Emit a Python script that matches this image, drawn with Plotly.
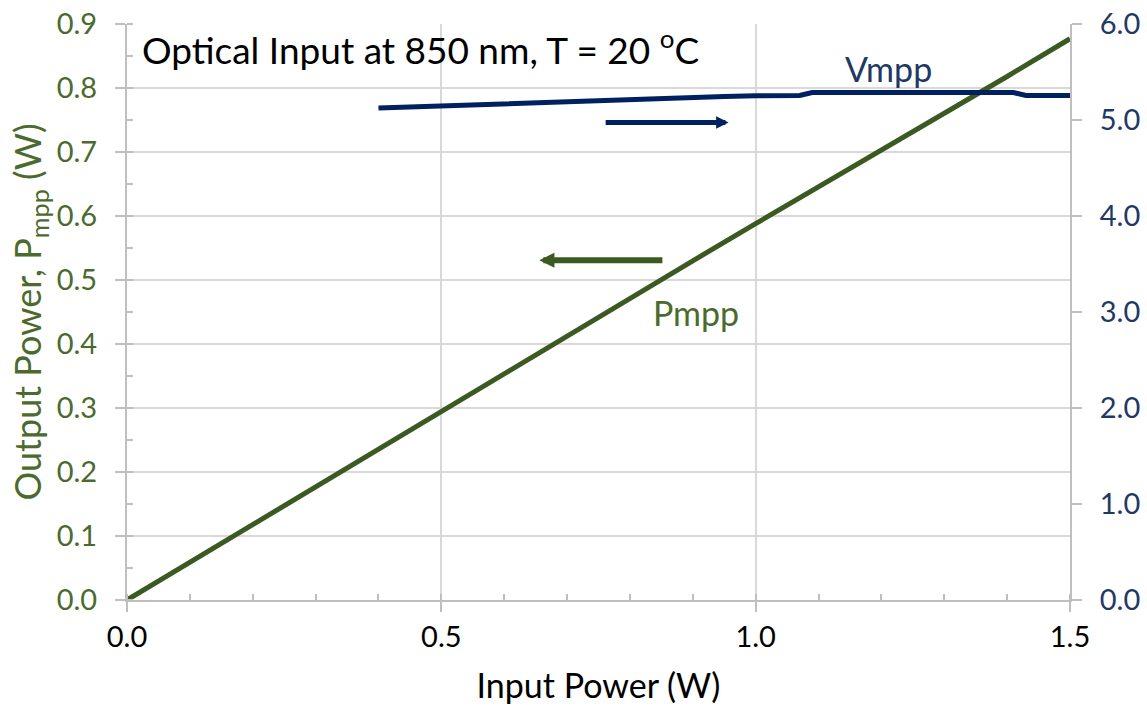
import plotly.graph_objects as go

# Data
input_power = [0.0, 0.1, 0.2, 0.3, 0.4, 0.5, 0.6, 0.7, 0.8, 0.9, 1.0, 1.1, 1.2, 1.3, 1.4, 1.5]
p_mpp = [0.000, 0.059, 0.118, 0.177, 0.237, 0.296, 0.355, 0.413, 0.471, 0.530, 0.588, 0.645, 0.702, 0.760, 0.818, 0.877]

vmpp_input = [0.40, 0.45, 0.50, 0.55, 0.60, 0.65, 0.70, 0.75, 0.80, 0.85, 0.90, 0.95, 1.00, 1.07, 1.09, 1.20, 1.30, 1.41, 1.43, 1.50]
v_mpp = [5.124, 5.136, 5.148, 5.158, 5.170, 5.182, 5.194, 5.206, 5.216, 5.226, 5.236, 5.246, 5.252, 5.256, 5.286, 5.286, 5.286, 5.286, 5.255, 5.255]

x_ticks = [0.0, 0.5, 1.0, 1.5]
y_ticks = [0.0, 0.1, 0.2, 0.3, 0.4, 0.5, 0.6, 0.7, 0.8, 0.9]
y2_ticks = [0.0, 1.0, 2.0, 3.0, 4.0, 5.0, 6.0]

GREEN = "#3b5a22"
GREEN_TXT = "#4b6b2e"
BLUE = "#002060"
BLUE_TXT = "#1f3864"
AXIS = "#bfbfbf"
GRID = "#d9d9d9"
FONT = "Lato"

fig = go.Figure()
fig.add_trace(go.Scatter(x=input_power, y=p_mpp, mode="lines",
                         line=dict(color=GREEN, width=5), name="Pmpp", yaxis="y"))
fig.add_trace(go.Scatter(x=vmpp_input, y=v_mpp, mode="lines",
                         line=dict(color=BLUE, width=5), name="Vmpp", yaxis="y2"))

fig.update_layout(
    width=1147, height=711,
    margin=dict(l=127, r=77, t=24, b=111),
    paper_bgcolor="white", plot_bgcolor="white",
    showlegend=False,
    font=dict(family=FONT, size=29, color="black"),
    xaxis=dict(
        range=[0, 1.5], tickvals=x_ticks, ticktext=[f"{v:.1f}" for v in x_ticks],
        automargin=False,
        showline=True, linecolor=AXIS, linewidth=2,
        ticks="outside", ticklen=10, tickcolor=AXIS, tickwidth=2,
        showgrid=True, gridcolor=GRID, gridwidth=2, zeroline=False,
        minor=dict(dtick=0.1, ticks="inside", ticklen=6, tickcolor=AXIS, tickwidth=2, showgrid=False),
        tickfont=dict(family=FONT, size=29, color="black"),
        title=dict(text="Input Power (W)", font=dict(family=FONT, size=34, color="black"), standoff=22),
    ),
    yaxis=dict(
        range=[0, 0.9], tickvals=y_ticks, ticktext=[f"{v:.1f}" for v in y_ticks],
        automargin=False,
        showline=True, linecolor=AXIS, linewidth=2,
        ticks="outside", ticklen=10, tickcolor=AXIS, tickwidth=2,
        ticklabelstandoff=12,
        showgrid=True, gridcolor=GRID, gridwidth=2, zeroline=False,
        minor=dict(dtick=0.05, ticks="inside", ticklen=6, tickcolor=AXIS, tickwidth=2, showgrid=False),
        tickfont=dict(family=FONT, size=29, color=GREEN_TXT),
        title=dict(text="Output Power, P<sub>mpp</sub> (W)", font=dict(family=FONT, size=36, color=GREEN_TXT), standoff=4),
    ),
    yaxis2=dict(
        range=[0, 6], tickvals=y2_ticks, ticktext=[f"{v:.1f}" for v in y2_ticks],
        overlaying="y", side="right", automargin=False,
        showline=True, linecolor=AXIS, linewidth=2,
        ticks="outside", ticklen=10, tickcolor=AXIS, tickwidth=2,
        ticklabelstandoff=12,
        showgrid=False, zeroline=False,
        tickfont=dict(family=FONT, size=29, color=BLUE_TXT),
    ),
)

# Text labels
fig.add_annotation(x=0.02, y=0.864, xref="x", yref="y", xanchor="left", yanchor="middle",
                   text="Optical Input at 850 nm, T = 20 <sup>o</sup>C", showarrow=False,
                   font=dict(family=FONT, size=37, color="black"))
fig.add_annotation(x=1.211, y=0.83, xref="x", yref="y", text="Vmpp", showarrow=False,
                   font=dict(family=FONT, size=34, color=BLUE_TXT))
fig.add_annotation(x=0.905, y=0.449, xref="x", yref="y", text="Pmpp", showarrow=False,
                   font=dict(family=FONT, size=34, color=GREEN_TXT))

# Arrows
fig.add_annotation(x=0.957, y=0.746, ax=0.759, ay=0.746, xref="x", yref="y", axref="x", ayref="y",
                   text="", showarrow=True, arrowhead=2, arrowsize=0.5, arrowwidth=5, arrowcolor=BLUE)
fig.add_annotation(x=0.656, y=0.531, ax=0.854, ay=0.531, xref="x", yref="y", axref="x", ayref="y",
                   text="", showarrow=True, arrowhead=2, arrowsize=0.5, arrowwidth=6, arrowcolor=GREEN)

fig.write_html("out.html")
